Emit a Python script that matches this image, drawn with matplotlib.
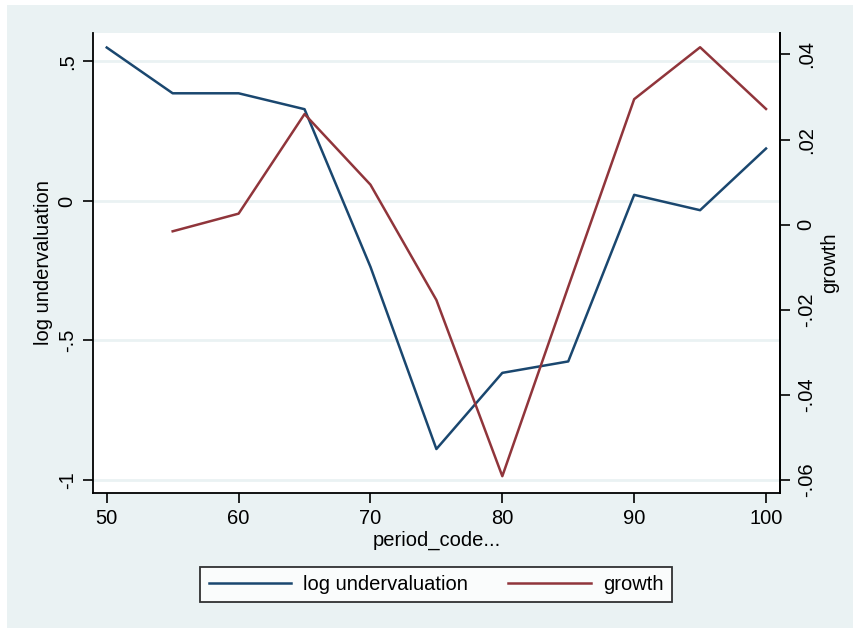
import matplotlib
matplotlib.use('Agg')
import matplotlib.pyplot as plt
from matplotlib.patches import Rectangle

# data
period = [50, 55, 60, 65, 70, 75, 80, 85, 90, 95, 100]
log_underval = [0.550, 0.386, 0.386, 0.329, -0.236, -0.889, -0.616, -0.575, 0.022, -0.033, 0.188]
growth_period = [55, 60, 65, 70, 75, 80, 85, 90, 95, 100]
growth = [-0.00155, 0.0026, 0.0260, 0.0094, -0.0177, -0.0591, -0.0146, 0.0295, 0.0417, 0.0272]

left_ticks = [-1, -0.5, 0, 0.5]
left_labels = ['-1', '-.5', '0', '.5']
right_ticks = [-0.06, -0.04, -0.02, 0, 0.02, 0.04]
right_labels = ['-.06', '-.04', '-.02', '0', '.02', '.04']
x_ticks = [50, 60, 70, 80, 90, 100]

blue = '#1A476F'
red = '#90353B'
bg = '#EAF2F3'

plt.rcParams['font.family'] = ['Liberation Sans', 'DejaVu Sans']
fs = 14.5

fig = plt.figure(figsize=(8.54, 6.28), dpi=100, facecolor='white')
fig.patches.append(Rectangle((7 / 854, 0), 1, 1 - 5 / 628, transform=fig.transFigure,
                             facecolor=bg, edgecolor='none', zorder=-10))

ax = fig.add_axes([93.3 / 854, 1 - 492.7 / 628, (780 - 93.3) / 854, (492.7 - 33.3) / 628])
ax.set_facecolor('white')
ax.set_xlim(48.98, 101.06)
ax.set_ylim(-1.0455, 0.601)
ax.set_yticks(left_ticks)
ax.set_yticklabels(left_labels, rotation=90, va='center', fontsize=fs)
ax.set_xticks(x_ticks)
ax.set_xticklabels([str(t) for t in x_ticks], fontsize=fs)
for t in left_ticks:
    ax.axhline(t, color=bg, lw=2, zorder=0)
ax.tick_params(direction='out', length=7, width=1.2, color='black', pad=5)
for s in ax.spines.values():
    s.set_linewidth(1.3)
    s.set_color('black')
ax.spines['top'].set_visible(False)

l1, = ax.plot(period, log_underval, color=blue, lw=1.8, label='log undervaluation')
ax.set_ylabel('log undervaluation', fontsize=fs, labelpad=3)
ax.set_xlabel('period_code...', fontsize=fs, labelpad=2)

ax2 = ax.twinx()
ax2.set_ylim(-0.06298, 0.04498)
ax2.set_yticks(right_ticks)
ax2.set_yticklabels(right_labels, rotation=90, va='center', fontsize=fs)
ax2.tick_params(direction='out', length=7, width=1.2, color='black', pad=5)
for s in ax2.spines.values():
    s.set_linewidth(1.3)
ax2.spines['top'].set_visible(False)
ax2.spines['left'].set_visible(False)
ax2.spines['bottom'].set_visible(False)
l2, = ax2.plot(growth_period, growth, color=red, lw=1.8, label='growth')
ax2.set_ylabel('growth', fontsize=fs, rotation=90, labelpad=3)

leg = fig.legend(handles=[l1, l2], loc='center', ncol=2,
                 bbox_to_anchor=(436 / 854, 1 - 584.5 / 628),
                 fontsize=fs, frameon=True, fancybox=False, edgecolor='black',
                 handlelength=4.1, handletextpad=0.6, columnspacing=2.0,
                 borderpad=0.4, borderaxespad=0)
leg.get_frame().set_linewidth(1.3)
leg.get_frame().set_facecolor('white')

fig.savefig('out.png', dpi=100, facecolor=fig.get_facecolor())
